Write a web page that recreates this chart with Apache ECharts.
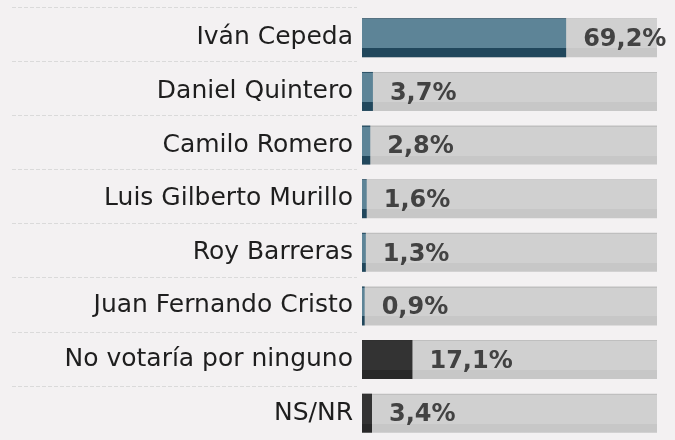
<!DOCTYPE html>
<html>
<head>
    <meta charset="utf-8">
    <script src="https://cdn.jsdelivr.net/npm/echarts@6/dist/echarts.min.js"></script>
    <style>
        html, body { margin: 0; padding: 0; background: #f3f1f2; }
    </style>
</head>
<body>
    <div id="main" style="width: 675px;height:440px"></div>
    <script type="text/javascript">
        // datos de la encuesta
        var nombres = ['Iván Cepeda', 'Daniel Quintero', 'Camilo Romero', 'Luis Gilberto Murillo',
                       'Roy Barreras', 'Juan Fernando Cristo', 'No votaría por ninguno', 'NS/NR'];
        var valores = [69.2, 3.7, 2.8, 1.6, 1.3, 0.9, 17.1, 3.4];
        var grupos = ['candidato', 'candidato', 'candidato', 'candidato',
                      'candidato', 'candidato', 'otro', 'otro'];

        // barra con franja inferior oscura
        var franja = function (top, main, bottom) {
            return {
                type: 'linear', x: 0, y: 0, x2: 0, y2: 1,
                colorStops: [
                    { offset: 0, color: top }, { offset: 0.03, color: top },
                    { offset: 0.03, color: main }, { offset: 0.77, color: main },
                    { offset: 0.77, color: bottom }, { offset: 1, color: bottom }
                ]
            };
        };
        var colores = {
            candidato: franja('#2e5469', '#5d8497', '#21475c'),
            otro: franja('#303030', '#333333', '#282828')
        };

        var myChart = echarts.init(document.getElementById('main'));

        var option = {
            backgroundColor: '#f3f1f2',
            animation: false,
            grid: [
                { left: 12, top: 7.3, width: 345, height: 434.4 },
                { left: 362, right: 18, top: 11, bottom: 0 }
            ],
            xAxis: [
                { gridIndex: 0, type: 'value', show: false },
                { gridIndex: 1, type: 'value', min: 0, max: 100, show: false }
            ],
            yAxis: [{
                gridIndex: 0,
                type: 'category',
                data: nombres,
                inverse: true,
                axisLine: { show: false },
                axisTick: { show: false },
                axisLabel: { show: false },
                splitLine: {
                    show: true,
                    interval: 0,
                    lineStyle: { color: '#dadada', width: 1, type: [4, 2] }
                }
            }, {
                gridIndex: 1,
                type: 'category',
                data: nombres,
                inverse: true,
                axisLine: { show: false },
                axisTick: { show: false },
                splitLine: { show: false },
                axisLabel: {
                    margin: 9,
                    fontSize: 25,
                    fontFamily: 'DejaVu Sans',
                    color: '#1e1e1e'
                }
            }],
            series: [{
                type: 'bar',
                xAxisIndex: 1,
                yAxisIndex: 1,
                barWidth: 39,
                showBackground: true,
                backgroundStyle: {
                    color: franja('#bfbfbf', '#d0d0d0', '#c7c7c7')
                },
                data: valores.map(function (v, i) {
                    return { value: v, itemStyle: { color: colores[grupos[i]] } };
                }),
                label: {
                    show: true,
                    position: 'right',
                    distance: 17,
                    offset: [0, 2],
                    fontSize: 24,
                    fontWeight: 'bold',
                    fontFamily: 'DejaVu Sans',
                    color: '#424242',
                    formatter: function (p) {
                        return p.value.toFixed(1).replace('.', ',') + '%';
                    }
                }
            }]
        };

        myChart.setOption(option);
    </script>
</body>
</html>
